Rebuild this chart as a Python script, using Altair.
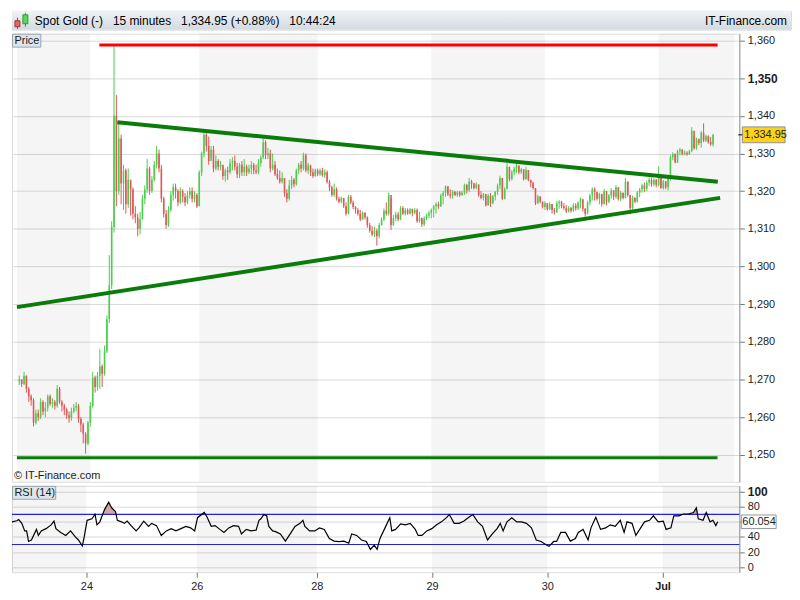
import altair as alt
import pandas as pd

# ---------------- data ----------------
first_open = 1269.5
close = [
    1270.0, 1268.8, 1271.0, 1267.5, 1265.5, 1264.5, 1258.5, 1261.0, 1260.0, 1264.0,
    1261.5, 1262.5, 1265.5, 1263.5, 1264.0, 1263.0, 1267.5, 1264.0, 1263.0, 1262.0,
    1260.5, 1259.8, 1261.5, 1262.5, 1263.0, 1259.5, 1258.0, 1255.5, 1253.0, 1258.5,
    1263.0, 1270.5, 1268.0, 1271.0, 1273.5, 1271.5, 1277.5, 1286.0, 1295.0, 1310.5,
    1340.0, 1320.0, 1334.0, 1322.0, 1325.5, 1316.5, 1323.0, 1320.5, 1314.0, 1313.0,
    1310.0, 1312.5, 1318.0, 1320.5, 1326.0, 1320.0, 1323.0, 1327.0, 1330.0, 1326.0,
    1318.0, 1314.0, 1311.0, 1315.0, 1319.0, 1321.0, 1320.0, 1317.0, 1320.0, 1318.5,
    1317.0, 1319.0, 1320.0, 1318.0, 1319.0, 1316.0, 1325.0, 1330.0, 1335.0, 1332.0,
    1328.0, 1331.0, 1326.0, 1328.0, 1326.5, 1327.0, 1324.0, 1325.5, 1325.0, 1327.5,
    1328.0, 1326.5, 1324.5, 1327.0, 1325.0, 1326.5, 1325.0, 1326.0, 1327.0, 1325.5,
    1325.0, 1327.5, 1329.0, 1333.0, 1329.5, 1330.0, 1326.0, 1327.0, 1324.5, 1323.5,
    1322.5, 1323.5, 1319.5, 1318.0, 1321.5, 1323.0, 1321.8, 1325.5, 1327.0, 1326.0,
    1329.5, 1325.5, 1326.8, 1325.0, 1324.0, 1325.5, 1324.5, 1325.5, 1324.2, 1325.0,
    1322.5, 1321.0, 1319.0, 1320.5, 1318.0, 1317.2, 1318.2, 1316.0, 1314.0, 1318.5,
    1317.0, 1315.8, 1315.0, 1314.0, 1312.5, 1314.2, 1313.0, 1311.0, 1309.5, 1308.5,
    1309.5, 1308.0, 1311.0, 1312.5, 1314.8, 1314.0, 1319.0, 1311.0, 1312.8, 1313.8,
    1312.5, 1315.5, 1314.0, 1315.0, 1314.0, 1315.2, 1314.2, 1315.0, 1312.0, 1312.8,
    1311.2, 1312.8, 1313.5, 1314.2, 1315.0, 1316.0, 1316.5, 1316.0, 1318.8, 1319.5,
    1321.2, 1319.2, 1318.8, 1319.8, 1319.0, 1319.7, 1318.9, 1319.6, 1321.6, 1320.2,
    1322.5, 1322.0, 1320.8, 1321.8, 1319.0, 1318.2, 1319.2, 1316.2, 1318.8, 1316.8,
    1318.6, 1319.8, 1321.5, 1323.5, 1318.0, 1320.5, 1326.5, 1323.2, 1325.0, 1326.0,
    1326.8, 1325.0, 1325.8, 1323.2, 1325.6, 1323.0, 1322.2, 1320.8, 1316.8, 1318.6,
    1317.2, 1315.8, 1316.8, 1315.2, 1316.6, 1315.0, 1314.5, 1316.8, 1317.2, 1316.0,
    1315.5, 1314.6, 1315.5, 1314.8, 1316.2, 1315.4, 1317.0, 1317.8, 1315.3, 1314.0,
    1317.0, 1318.8, 1320.5, 1319.8, 1318.0, 1319.3, 1316.6, 1320.0, 1317.2, 1318.9,
    1320.2, 1318.5, 1321.0, 1318.0, 1319.6, 1318.2, 1322.5, 1319.0, 1315.5, 1318.2,
    1317.2, 1319.6, 1320.4, 1321.5, 1320.6, 1322.2, 1323.0, 1321.8, 1323.0, 1321.6,
    1323.8, 1320.8, 1322.6, 1321.0, 1323.8, 1329.0, 1329.8, 1327.6, 1330.6, 1331.0,
    1329.8, 1330.2, 1329.8, 1330.6, 1336.0, 1331.4, 1333.8, 1332.8, 1335.5, 1333.4,
    1334.6, 1333.0, 1332.4, 1334.95,
]
high = [
    1271, 1270, 1272, 1271, 1268, 1266, 1265, 1262, 1262, 1265,
    1264.5, 1264, 1266, 1266, 1265, 1264.5, 1268.5, 1268, 1264.5, 1263.5,
    1262.5, 1261.5, 1262.5, 1263.5, 1264, 1263.5, 1260, 1258.5, 1256, 1259,
    1264, 1272, 1271, 1272, 1278, 1274, 1279, 1287, 1303, 1312,
    1358.6, 1345.5, 1338, 1335, 1327, 1326, 1326, 1323, 1321, 1316,
    1314, 1314.5, 1319, 1321.5, 1328.5, 1326.5, 1324, 1328, 1332, 1331,
    1327, 1318.5, 1315, 1316, 1320, 1322, 1322, 1320.5, 1321, 1320.5,
    1319.5, 1320, 1321, 1321, 1320, 1319.5, 1325.5, 1330.5, 1336, 1335.5,
    1334.5, 1332, 1332, 1329.5, 1328.5, 1328, 1326.5, 1326, 1326.5, 1328.5,
    1329, 1329.5, 1327.5, 1327.5, 1328, 1328.5, 1327, 1327, 1328, 1327.5,
    1327, 1328.5, 1329.5, 1334, 1333.5, 1331.5, 1331, 1330, 1328, 1326,
    1325.5, 1325, 1322, 1320.5, 1323, 1324, 1323.5, 1326, 1327.5, 1328,
    1330.2, 1330, 1327.5, 1327, 1326, 1326, 1326, 1326, 1326.2, 1325.8,
    1325.5, 1323, 1321.5, 1322, 1321, 1318.5, 1318.5, 1318, 1317, 1319,
    1319, 1317.5, 1316, 1315.5, 1315, 1314.6, 1314.5, 1313.3, 1311.6, 1310.7,
    1310.5, 1310, 1311.6, 1313, 1315.4, 1317, 1319.6, 1318, 1313.7, 1314.5,
    1314.5, 1316, 1316, 1315.5, 1315.4, 1315.5, 1315.4, 1315.5, 1315.4, 1314.5,
    1313, 1313.3, 1314, 1314.8, 1315.4, 1316.3, 1317, 1317.2, 1319.3, 1320,
    1321.5, 1321.4, 1320.5, 1320.3, 1320, 1320, 1320, 1320, 1322, 1321.9,
    1323.5, 1323, 1322.2, 1322.3, 1321, 1320, 1319.5, 1319.3, 1319.3, 1319.5,
    1319, 1320, 1322, 1324.1, 1323.3, 1321, 1327.6, 1326, 1325.6, 1326.5,
    1327.3, 1326.8, 1326.2, 1325.8, 1326.4, 1325.6, 1323, 1322.5, 1320.8, 1319,
    1318.6, 1317.2, 1317.3, 1316.8, 1317, 1316.6, 1315.5, 1317.4, 1317.6, 1317.4,
    1316.8, 1316.3, 1316, 1315.8, 1316.8, 1316.8, 1317.3, 1318.3, 1318, 1315.5,
    1317.4, 1319.3, 1321, 1321, 1319.8, 1319.6, 1319, 1320.5, 1320, 1319.2,
    1320.8, 1320.2, 1321.6, 1321, 1320, 1319.6, 1323.5, 1322.6, 1319, 1318.8,
    1318.5, 1320, 1320.8, 1322, 1322.3, 1322.8, 1323.6, 1323.6, 1323.4, 1323.2,
    1326.6, 1324.3, 1323, 1322.6, 1324, 1329.5, 1330.3, 1330, 1331, 1331.5,
    1331.2, 1330.8, 1330.6, 1331, 1337, 1334.5, 1334.2, 1334, 1336, 1338,
    1335, 1334.8, 1334.4, 1335.2,
]
low = [
    1268.5, 1268, 1268.5, 1266.5, 1264, 1263, 1257.5, 1258, 1259, 1259.5,
    1260.5, 1260, 1261.5, 1263, 1262.5, 1262, 1262.5, 1263.5, 1261.5, 1260.5,
    1259.5, 1258.5, 1259, 1261, 1261.5, 1258.5, 1256, 1253, 1250.3, 1252.5,
    1257.5, 1262.5, 1266.5, 1267, 1267.5, 1268, 1271, 1277, 1285, 1294,
    1309, 1316, 1319, 1316.5, 1315, 1314, 1315.5, 1313.5, 1312.5, 1311.5,
    1308, 1308.5, 1312.5, 1316.5, 1319.5, 1319, 1319.5, 1322.5, 1326, 1325,
    1317, 1313, 1310, 1310.5, 1314.5, 1317.5, 1318, 1316, 1316.5, 1317,
    1316, 1316.5, 1318, 1317, 1317, 1315.5, 1316, 1324, 1329, 1330.5,
    1327, 1329, 1325, 1325.5, 1325.5, 1325.5, 1323, 1322.5, 1323, 1324.5,
    1325.5, 1325.5, 1323.5, 1323.5, 1324, 1324, 1324, 1324.5, 1324.5, 1324.5,
    1324.5, 1324.5, 1326.5, 1328.5, 1328.5, 1328.5, 1325, 1325.5, 1324, 1323,
    1322, 1322, 1318.5, 1317, 1317.5, 1320.5, 1321, 1321.5, 1324.5, 1325,
    1325.5, 1325, 1324.5, 1324, 1323.5, 1323.8, 1324, 1324, 1323.8, 1323.5,
    1322, 1320, 1318.5, 1318.5, 1317.5, 1316.8, 1316.8, 1315.5, 1313.5, 1313.8,
    1316.5, 1315.2, 1314, 1313.5, 1312, 1312.3, 1312.5, 1310.3, 1309, 1308,
    1307.8, 1305.5, 1307.5, 1310.8, 1312, 1313.5, 1313.5, 1309.7, 1310.8, 1312,
    1312, 1312.3, 1313.7, 1313.5, 1313.7, 1313.8, 1313.3, 1313.8, 1311.6, 1311.6,
    1310.5, 1310.7, 1312.3, 1312.8, 1312.8, 1313, 1314, 1315.3, 1315.8, 1316.5,
    1318.5, 1318.7, 1318, 1318, 1318.7, 1318.5, 1318.5, 1318.8, 1319, 1319.3,
    1319.7, 1320.6, 1320.4, 1320.5, 1318.5, 1317.8, 1317.5, 1315.9, 1316.2, 1315.8,
    1316.5, 1317.5, 1319, 1320.5, 1317.6, 1317.8, 1320.5, 1322.6, 1322.8, 1324.2,
    1324.8, 1324.5, 1324.6, 1322.8, 1323, 1322.6, 1321, 1320.4, 1316.3, 1316.5,
    1316.8, 1315.4, 1315, 1314.8, 1315, 1314, 1313.8, 1314.2, 1315.3, 1315.4,
    1315, 1314.2, 1314.3, 1314.3, 1314.5, 1314.8, 1315, 1315.4, 1314.6, 1313.2,
    1313.8, 1316.2, 1317.5, 1317.5, 1317.5, 1316.5, 1315.9, 1316.4, 1316.2, 1316.8,
    1318, 1317.6, 1318, 1317.5, 1317.4, 1317.8, 1318, 1318.5, 1313.8, 1315,
    1316.8, 1317, 1318.4, 1319.6, 1319.7, 1320, 1321.4, 1321.2, 1321.3, 1321,
    1321.2, 1320.6, 1320.4, 1320.5, 1320.2, 1322.8, 1328.2, 1327.4, 1327.5, 1329.5,
    1329.5, 1329.5, 1329.4, 1329.6, 1330.3, 1331, 1331, 1332.2, 1331.5, 1333,
    1333, 1332.6, 1332, 1331.8,
]

rsi_slot = [
    0, 2.0, 2.8, 4.1, 5.3, 6.1, 6.9, 8.1, 10.2, 11.0,
    12.2, 14.2, 16.3, 17.5, 18.3, 20.3, 22.4, 24.4, 26.4, 27.7,
    29.3, 30.1, 31.3, 33.3, 34.6, 35.4, 36.6, 37.8, 38.6, 40.3,
    41.5, 43.1, 43.9, 45.6, 46.8, 48.0, 49.6, 51.7, 52.9, 54.9,
    56.9, 58.2, 60.2, 62.2, 64.3, 66.3, 68.3, 70.4, 72.4, 74.4,
    76.1, 77.3, 80.1, 81.3, 83.0, 84.6, 86.6, 88.3, 90.3, 92.3,
    94.4, 95.6, 97.6, 99.6, 101.7, 102.9, 103.7, 104.9, 106.1, 107.0,
    108.6, 109.8, 111.8, 113.9, 115.9, 117.9, 120.0, 121.2, 122.0, 124.0,
    126.1, 128.1, 130.1, 132.2, 134.2, 136.2, 138.3, 140.3, 141.5, 143.6,
    145.6, 147.6, 149.3, 150.9, 152.1, 153.3, 155.4, 157.4, 158.2, 159.8,
    161.9, 163.9, 165.9, 168.0, 169.2, 170.8, 172.8, 174.9, 176.9, 178.9,
    181.0, 182.2, 184.2, 186.3, 188.3, 190.3, 192.0, 194.0, 196.0, 198.1,
    200.1, 202.1, 203.4, 204.6, 206.2, 208.2, 210.3, 212.3, 214.3, 216.4,
    218.4, 220.4, 222.5, 223.7, 225.7, 226.9, 228.6, 230.6, 232.6, 234.7,
    235.9, 237.9, 240.0, 241.2, 243.2, 245.2, 247.3, 249.3, 251.3, 253.4,
    255.0, 256.2, 258.3, 259.9, 261.5, 263.5, 265.6, 267.2, 269.2, 271.3,
    272.5, 274.5, 275.7, 277.8, 279.8, 281.8, 283.9, 285.1, 285.9, 287.9,
    289.2, 290.8, 292.0, 293.2, 294.0,
]
rsi_value = [
    60, 61.4, 63, 58, 48, 48, 34, 36, 50, 42,
    48, 51, 56, 61, 51, 46, 42, 48, 40, 36,
    28, 40, 62, 64, 70, 56, 60, 70, 76.5, 86,
    78.6, 73.7, 62, 60, 58, 61, 55, 48, 52, 61,
    54, 58, 55, 42, 48, 51, 48, 51, 54, 52,
    48, 65.5, 72.4, 66, 54, 55, 50, 46, 52, 55,
    54, 44, 50, 48, 49, 62, 64, 69.6, 68, 54,
    48, 47, 44, 34.5, 44, 54, 58, 62, 54, 48,
    48, 52, 50, 38, 34.5, 33.7, 34.5, 31.6, 44, 42,
    36, 34, 23.5, 29, 23.5, 38, 52, 65.5, 48, 50,
    57.3, 56, 58, 50, 42, 42, 48, 51, 56, 60,
    65.5, 69.6, 58, 58, 61, 66, 69.6, 60, 54, 36,
    44, 51, 58, 48, 60, 65.5, 60, 60, 58, 52,
    36, 34, 29.6, 27.6, 34, 34, 46, 46, 34.5, 38,
    46, 50, 36, 52, 66, 50, 52, 56, 54, 62,
    46, 60, 58, 42, 50, 60, 62, 68, 60, 61,
    50, 52, 68, 68, 70.4, 70.4, 72.4, 78.6, 64, 62,
    72.4, 60, 62, 55, 60.054,
]

day_tick_slots = [31, 77, 127, 175, 223, 271]
day_tick_labels = ["24", "26", "28", "29", "30", "Jul"]
shade_start = [0, 77, 175, 271]
shade_end = [31, 127, 223, 303]

line_names = ["upper", "upper", "lower", "lower", "resistance", "resistance", "support", "support"]
line_slots = [42.4, 296.0, 0.0, 297.0, 34.8, 295.9, 0.0, 295.9]
line_prices = [1338.3, 1322.5, 1289.2, 1318.2, 1358.8, 1358.8, 1249.2, 1249.2]

price_ticks = [1250, 1260, 1270, 1280, 1290, 1300, 1310, 1320, 1330, 1340, 1350, 1360]
rsi_ticks = [0, 20, 40, 60, 80, 100]
rsi_levels = [30, 70]
last_price = 1334.95
last_rsi = 60.054

header_text = "Spot Gold (-)\u00a0\u00a0 15 minutes\u00a0\u00a0 1,334.95 (+0.88%)\u00a0\u00a0 10:44:24"
site_text = "IT-Finance.com"
copyright_text = "\u00a9 IT-Finance.com"

# ---------------- layout / style ----------------
W, H_HEAD, H_PRICE, H_RSI, TOTAL_W = 732, 19, 451, 87, 784
FONT = "Liberation Sans"
GREEN, RED = "#4ccd4c", "#de5858"
TREND = "#0a7c0a"
TXT = "#1c1c1c"

opens = [first_open] + close[:-1]
candles = pd.DataFrame({
    "slot": list(range(1, len(close) + 1)),
    "open": opens, "close": close, "high": high, "low": low,
})
candles["dir"] = ["up" if c > o else "down" for o, c in zip(opens, close)]

xscale = alt.Scale(domain=[0, 303], nice=False, zero=False)
pscale = alt.Scale(domain=[1242.8, 1361.8], nice=False, zero=False)
rscale = alt.Scale(domain=[-6.8, 107.7], nice=False, zero=False)


def cond(v, a, b):
    return alt.condition(f"datum.value == {v}", alt.value(a), alt.value(b))


price_axis = alt.Axis(
    orient="right", values=price_ticks, format=",.0f", title=None, grid=True,
    gridColor="#dadada", tickSize=5, tickColor="#6f7880", domainColor="#8d969e",
    labelPadding=3, labelColor=TXT, labelFont=FONT,
    labelFontSize=cond(1350, 12, 11), labelFontWeight=cond(1350, "bold", "normal"),
)
rsi_axis = alt.Axis(
    orient="right", values=rsi_ticks, title=None, grid=True,
    labelExpr=f"datum.value == {round(last_rsi / 20) * 20} ? '' : datum.label",
    gridColor="#dadada", tickSize=5, tickColor="#6f7880", domainColor="#8d969e",
    labelPadding=3, labelColor=TXT, labelFont=FONT,
    labelFontSize=cond(100, 12, 11), labelFontWeight=cond(100, "bold", "normal"),
)
label_expr = " : ".join(
    f"datum.value == {s} ? '{l}'" for s, l in zip(day_tick_slots, day_tick_labels)
) + " : ''"
x_axis = alt.Axis(
    values=day_tick_slots, labelExpr=label_expr, title=None, grid=False, domain=False,
    tickSize=5, tickColor="#6f7880", labelPadding=3, labelColor=TXT, labelFont=FONT,
    labelFontSize=11, labelFontWeight=cond(day_tick_slots[-1], "bold", "normal"),
)


def xp(field="slot"):
    return alt.X(f"{field}:Q", scale=xscale, axis=None, title=None)


def yp(field):
    return alt.Y(f"{field}:Q", scale=pscale, axis=price_axis)


def xr(field="slot"):
    return alt.X(f"{field}:Q", scale=xscale, axis=x_axis, title=None)


def yr(field):
    return alt.Y(f"{field}:Q", scale=rscale, axis=rsi_axis)


shade_df = pd.DataFrame({"start": shade_start, "end": shade_end})
candle_color = alt.Color("dir:N", scale=alt.Scale(domain=["up", "down"], range=[GREEN, RED]), legend=None)
SHADE_OPACITY = 0.04

# ---------------- header ----------------
head = alt.Chart(pd.DataFrame({"t": [header_text], "site": [site_text]}))
head_bg = head.mark_rect(
    fill=alt.Gradient(gradient="linear", x1=0, x2=0, y1=0, y2=1,
                      stops=[alt.GradientStop(color="#eff3f6", offset=0),
                             alt.GradientStop(color="#d2dae1", offset=1)])
).encode(x=alt.value(0), x2=alt.value(TOTAL_W), y=alt.value(0), y2=alt.value(H_HEAD))
icon_r_w = head.mark_rule(color="#b03030").encode(x=alt.value(5.5), y=alt.value(7), y2=alt.value(18))
icon_r_b = head.mark_rect(fill="#e06a6a", stroke="#b03030").encode(
    x=alt.value(3), x2=alt.value(8), y=alt.value(10), y2=alt.value(16))
icon_g_w = head.mark_rule(color="#2e9a2e").encode(x=alt.value(13.5), y=alt.value(2), y2=alt.value(16))
icon_g_b = head.mark_rect(fill="#5ad65a", stroke="#2e9a2e").encode(
    x=alt.value(11), x2=alt.value(16), y=alt.value(4), y2=alt.value(13))
head_txt = head.mark_text(align="left", baseline="middle", fontSize=12, font=FONT, color="#000000").encode(
    x=alt.value(23), y=alt.value(H_HEAD / 2 + 0.5), text="t:N")
head_site = head.mark_text(align="right", baseline="middle", fontSize=12, font=FONT, color="#000000").encode(
    x=alt.value(TOTAL_W - 4), y=alt.value(H_HEAD / 2 + 0.5), text="site:N")
header = alt.layer(head_bg, icon_r_w, icon_r_b, icon_g_w, icon_g_b, head_txt, head_site).properties(
    width=TOTAL_W, height=H_HEAD)

# ---------------- price panel ----------------
bands_p = alt.Chart(shade_df).mark_rect(color="#000000", opacity=SHADE_OPACITY).encode(
    x=xp("start"), x2="end:Q")
wicks = alt.Chart(candles).mark_rule(strokeWidth=1).encode(x=xp(), y=yp("low"), y2="high:Q", color=candle_color)
bodies = alt.Chart(candles).mark_bar(size=1.6).encode(x=xp(), y=yp("open"), y2="close:Q", color=candle_color)

lines_df = pd.DataFrame({"name": line_names, "slot": line_slots, "price": line_prices})


def line_layer(name, color, width):
    return alt.Chart(lines_df).transform_filter(alt.datum.name == name).mark_line(
        color=color, strokeWidth=width, strokeCap="butt").encode(x=xp(), y=yp("price"))


l_up = line_layer("upper", TREND, 4)
l_lo = line_layer("lower", TREND, 4)
l_res = line_layer("resistance", "#ff0000", 3)
l_sup = line_layer("support", TREND, 3)

tag = alt.Chart(pd.DataFrame({"price": [last_price]})).transform_calculate(
    top="datum.price + 2.1", bot="datum.price - 2.1", label="format(datum.price, ',.2f')")
tag_box = tag.mark_rect(fill="#ffd11a", stroke="#8f8f8f", strokeWidth=1).encode(
    x=alt.value(W + 3), x2=alt.value(W + 46), y=yp("top"), y2="bot:Q")
tag_tick = tag.mark_rule(color="#000000").encode(x=alt.value(W - 1), x2=alt.value(W + 3), y=yp("price"))
tag_text = tag.mark_text(align="left", baseline="middle", fontSize=11, font=FONT, color=TXT).encode(
    x=alt.value(W + 5), y=yp("price"), text="label:N")

plab = alt.Chart(pd.DataFrame({"t": ["Price"], "c": [copyright_text]}))
plab_box = plab.mark_rect(fill="#dde5ec", stroke="#98a4ae", strokeWidth=1).encode(
    x=alt.value(0.5), x2=alt.value(29), y=alt.value(0.5), y2=alt.value(13.5))
plab_txt = plab.mark_text(align="left", baseline="middle", fontSize=11, font=FONT, color=TXT).encode(
    x=alt.value(2.5), y=alt.value(7.5), text="t:N")
copy_txt = plab.mark_text(align="left", baseline="middle", fontSize=11, font=FONT, color=TXT).encode(
    x=alt.value(2), y=alt.value(H_PRICE - 6), text="c:N")

price = alt.layer(
    bands_p, wicks, bodies, l_sup, l_lo, l_up, l_res, tag_box, tag_tick, tag_text,
    plab_box, plab_txt, copy_txt,
).properties(width=W, height=H_PRICE)

# ---------------- RSI panel ----------------
rsi_df = pd.DataFrame({"slot": rsi_slot, "rsi": rsi_value})
bands_r = alt.Chart(shade_df).mark_rect(color="#000000", opacity=SHADE_OPACITY).encode(
    x=xr("start"), x2="end:Q")
over = alt.Chart(rsi_df).transform_calculate(
    over=f"max(datum.rsi, {rsi_levels[1]})", base=f"{rsi_levels[1]}"
).mark_area(color="#d3a1a1", opacity=0.95).encode(x=xr(), y=yr("over"), y2="base:Q")
lvl = alt.Chart(pd.DataFrame({"level": rsi_levels})).mark_rule(color="#2424d6", strokeWidth=1.2).encode(
    y=yr("level"))
rsi_line = alt.Chart(rsi_df).mark_line(color="#000000", strokeWidth=1.2).encode(x=xr(), y=yr("rsi"))

rtag = alt.Chart(pd.DataFrame({"v": [last_rsi]})).transform_calculate(
    top="datum.v + 9", bot="datum.v - 9", label="format(datum.v, '.3f')")
rtag_box = rtag.mark_rect(fill="#ffffff", stroke="#8f979e", strokeWidth=1).encode(
    x=alt.value(W + 2), x2=alt.value(W + 37), y=yr("top"), y2="bot:Q")
rtag_text = rtag.mark_text(align="left", baseline="middle", fontSize=11, font=FONT, color=TXT).encode(
    x=alt.value(W + 3), y=yr("v"), text="label:N")

rlab = alt.Chart(pd.DataFrame({"t": ["RSI (14)"]}))
rlab_box = rlab.mark_rect(fill="#dde5ec", stroke="#98a4ae", strokeWidth=1).encode(
    x=alt.value(0.5), x2=alt.value(44), y=alt.value(0.5), y2=alt.value(13.5))
rlab_txt = rlab.mark_text(align="left", baseline="middle", fontSize=11, font=FONT, color=TXT).encode(
    x=alt.value(2.5), y=alt.value(7.5), text="t:N")

rsi = alt.layer(
    bands_r, over, lvl, rsi_line, rtag_box, rtag_text, rlab_box, rlab_txt,
).properties(width=W, height=H_RSI)

chart = alt.vconcat(header, price, rsi, spacing=2).properties(
    padding=0, background="white"
).configure_view(stroke="#98a2aa", strokeWidth=1).configure(font=FONT)

chart.save("out.html", embed_options={"renderer": "svg", "actions": False})
